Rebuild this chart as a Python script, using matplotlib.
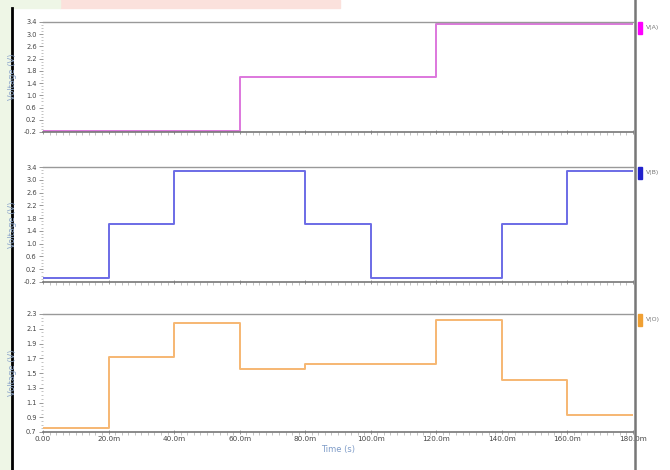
import numpy as np
import matplotlib.pyplot as plt
from matplotlib.patches import Rectangle
from matplotlib.lines import Line2D
from matplotlib.ticker import MultipleLocator, FixedLocator

# step edges in ms, one level per interval
t_ms = [0, 20, 40, 60, 80, 100, 120, 140, 160, 180]
v_a = [-0.18, -0.18, -0.18, 1.60, 1.60, 1.60, 3.35, 3.35, 3.35]
v_b = [-0.06, 1.61, 3.28, 3.28, 1.61, -0.06, -0.06, 1.61, 3.28]
v_o = [0.76, 1.72, 2.18, 1.55, 1.62, 1.62, 2.22, 1.40, 0.93]

names = ["V(A)", "V(B)", "V(O)"]
line_colors = ["#dd77dd", "#6b6be6", "#f6b772"]
mark_colors = ["#ff00ff", "#2222cc", "#f0a033"]

ab_ticks = [-0.2, 0.2, 0.6, 1.0, 1.4, 1.8, 2.2, 2.6, 3.0, 3.4]
o_ticks = [0.7, 0.9, 1.1, 1.3, 1.5, 1.7, 1.9, 2.1, 2.3]
x_ticks_ms = [0, 20, 40, 60, 80, 100, 120, 140, 160, 180]
x_labels = ["0.00"] + [f"{v:.1f}m" for v in x_ticks_ms[1:]]

W, H = 670, 470
fig = plt.figure(figsize=(W / 100, H / 100), dpi=100)
fig.patch.set_facecolor("white")

# page background around the plot window
fig.patches.append(Rectangle((0, 0), 11 / W, 1, transform=fig.transFigure,
                             color="#eef6e6", zorder=-2))
fig.patches.append(Rectangle((60 / W, 1 - 8 / H), 280 / W, 8 / H,
                             transform=fig.transFigure, color="#fbe1dc", zorder=-2))
fig.patches.append(Rectangle((0, 1 - 8 / H), 60 / W, 8 / H,
                             transform=fig.transFigure, color="#eef6e6", zorder=-2))
fig.lines.append(Line2D([12 / W, 12 / W], [0, 1 - 8 / H], transform=fig.transFigure,
                        color="black", lw=2.0, zorder=-1))
fig.lines.append(Line2D([635 / W, 635 / W], [0, 1], transform=fig.transFigure,
                        color="#777777", lw=1.8))

left = 43 / W
width = (633 - 43) / W
panels = [(22, 132), (167, 282), (314, 432)]
series = [v_a, v_b, v_o]
ylims = [(-0.2, 3.4), (-0.2, 3.4), (0.7, 2.3)]
yticks = [ab_ticks, ab_ticks, o_ticks]

t = np.array(t_ms) / 1000.0
for i, ((top, bot), vals) in enumerate(zip(panels, series)):
    ax = fig.add_axes([left, 1 - bot / H, width, (bot - top) / H])
    ax.plot(t, list(vals) + [vals[-1]], drawstyle="steps-post",
            color=line_colors[i], lw=1.4)
    ax.set_xlim(0, 0.18)
    ax.set_ylim(*ylims[i])

    ax.yaxis.set_major_locator(FixedLocator(yticks[i]))
    ax.set_yticklabels([f"{v:.1f}" for v in yticks[i]])
    step = yticks[i][1] - yticks[i][0]
    ax.yaxis.set_minor_locator(MultipleLocator(step / 4))
    ax.xaxis.set_major_locator(FixedLocator(t))
    ax.xaxis.set_minor_locator(MultipleLocator(0.002))
    if i == 2:
        ax.set_xticklabels(x_labels)
        ax.set_xlabel("Time (s)", fontsize=6, color="#7f9cc8", labelpad=2)
    else:
        ax.set_xticklabels([])

    ax.tick_params(axis="both", which="major", labelsize=4.8, colors="#888888",
                   labelcolor="#444444", length=3, width=0.6, pad=1.5)
    ax.tick_params(axis="both", which="minor", colors="#aaaaaa", length=1.8, width=0.5)
    ax.tick_params(axis="x", direction="inout", labelsize=5.2)

    for side in ["left", "right"]:
        ax.spines[side].set_visible(False)
    ax.spines["top"].set_color("#999999")
    ax.spines["top"].set_linewidth(1.0)
    ax.spines["bottom"].set_color("#777777")
    ax.spines["bottom"].set_linewidth(1.2)

    ax.set_ylabel("Voltage (V)", fontsize=6, color="#8fa8cc", labelpad=2)
    ax.yaxis.set_label_coords(-0.044, 0.5)

    # legend swatch beside the plot window
    fig.patches.append(Rectangle((638 / W, 1 - (top + 12) / H), 4 / W, 12 / H,
                                 transform=fig.transFigure, color=mark_colors[i],
                                 zorder=5))
    fig.text(646 / W, 1 - (top + 6) / H, names[i], fontsize=4.5, color="#777777",
             va="center", ha="left")

fig.savefig("out.png", dpi=100)
